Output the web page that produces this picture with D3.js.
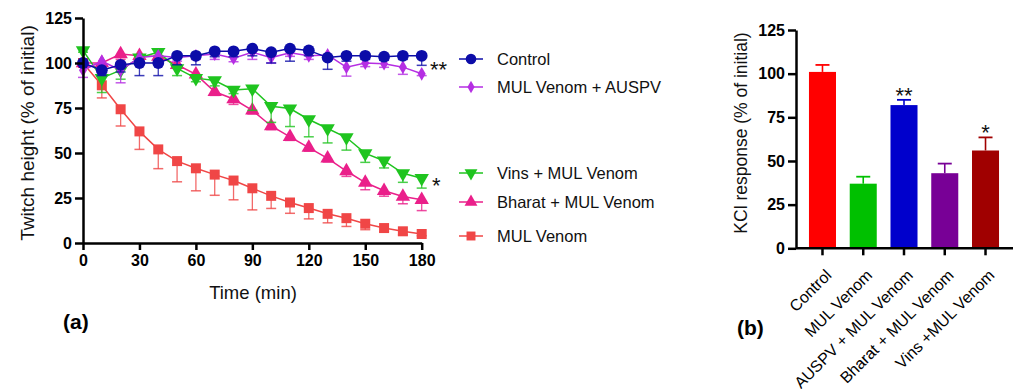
<!DOCTYPE html>
<html><head><meta charset="utf-8">
<script src="https://cdn.jsdelivr.net/npm/d3@7"></script>
<style>body{margin:0;background:#fff}svg{display:block}text{font-family:"Liberation Sans",Arial,sans-serif}</style>
</head><body>
<svg id="c" width="1019" height="389"></svg>
<script>
const times = [0,10,20,30,40,50,60,70,80,90,100,110,120,130,140,150,160,170,180];
const controlVals = [100,96,99,100,100,104,104,106.5,106.5,108,106,108,107,103,104,104,103.5,104,104];
const controlErr  = [0,3,4,7,7,5,5,3,3,4,6,7,3,6.5,3,2,2,2,5.3];
const auspvVals = [96,101,96,103,104,103,104,105,102.7,106,103,105.7,104,104.5,97.7,100,99.6,97.7,94];
const auspvErr  = [4,2,7,3,3,2,2,3,2,4,3,2,2,2,5,2,2,4,1];
const vinsVals = [107,91.6,96,103,106,97,91.6,90.3,85,85.7,76,74.7,68.6,63.6,58.6,49.8,45.7,38.7,36];
const vinsErr  = [1,8,5,3,2,4,2,3,2,12,9,10,9.6,8,7,5,4,5,5.5];
const bharatVals = [100,100,105,104,103.6,99,93.7,84,80,73.7,65,59,53,47,40,33.6,29,25.8,24];
const bharatErr  = [1,2,3,2,2,2,2,2,3,2,2,2,2,2,3,4,3,4,6];
const mulVals = [100,87.6,74.3,62,52,45.5,41.5,38,34.7,30.4,26.2,22.5,19.4,16.2,13.8,10.7,8.3,6.5,5];
const mulErr  = [0,7,9.3,10,10.7,11.5,12.5,11.5,10.7,12,7,6,6,5,4.6,3.3,2,2,1];
const xTicksA = [0,30,60,90,120,150,180];
const yTicks = [0,25,50,75,100,125];

const barCats = ["Control","MUL Venom","AUSPV + MUL Venom","Bharat + MUL Venom","Vins +MUL Venom"];
const barVals = [101,37,82,43,56];
const barErr  = [4,4,3,5.5,7.5];
const barStars = ["","","**","","*"];

const svg = d3.select("#c");
const FONT = '"Liberation Sans",Arial,sans-serif';

// ---------- Panel (a) ----------
const xA = d3.scaleLinear().domain([0,180]).range([83,421.7]);
const yA = d3.scaleLinear().domain([0,125]).range([243,18]);

const series = [
  {name:"MUL Venom", vals:mulVals, err:mulErr, color:"#f04646", sym:d3.symbolSquare, size:100, rot:0, ly:236},
  {name:"Bharat + MUL Venom", vals:bharatVals, err:bharatErr, color:"#ea1f8a", sym:d3.symbolTriangle, size:90, rot:0, ly:202},
  {name:"Vins + MUL Venom", vals:vinsVals, err:vinsErr, color:"#1fc41f", sym:d3.symbolTriangle, size:90, rot:180, ly:173},
  {name:"MUL Venom + AUSPV", vals:auspvVals, err:auspvErr, color:"#b52ee3", sym:d3.symbolDiamond, size:55, rot:0, ly:87},
  {name:"Control", vals:controlVals, err:controlErr, color:"#0c0ca8", sym:d3.symbolCircle, size:110, rot:0, ly:59}
];

const gA = svg.append("g");
series.forEach(s => {
  const g = gA.append("g");
  times.forEach((t,i) => {
    if (s.err[i] <= 0.5) return;
    const x = xA(t), y1 = yA(s.vals[i]), y2 = yA(s.vals[i]-s.err[i]);
    g.append("line").attr("x1",x).attr("x2",x).attr("y1",y1).attr("y2",y2)
      .attr("stroke",s.color).attr("stroke-width",1.3).attr("opacity",0.8);
    g.append("line").attr("x1",x-5).attr("x2",x+5).attr("y1",y2).attr("y2",y2)
      .attr("stroke",s.color).attr("stroke-width",1.5).attr("opacity",0.8);
  });
  const line = d3.line().x((d,i)=>xA(times[i])).y(d=>yA(d));
  g.append("path").attr("d",line(s.vals)).attr("fill","none")
    .attr("stroke",s.color).attr("stroke-width",1.5);
  const sym = d3.symbol().type(s.sym).size(s.size);
  times.forEach((t,i) => {
    g.append("path").attr("d",sym())
      .attr("transform",`translate(${xA(t)},${yA(s.vals[i])}) rotate(${s.rot})`)
      .attr("fill",s.color);
  });
  const lg = svg.append("g");
  lg.append("line").attr("x1",459).attr("x2",483).attr("y1",s.ly).attr("y2",s.ly)
    .attr("stroke",s.color).attr("stroke-width",1.5);
  lg.append("path").attr("d",d3.symbol().type(s.sym).size(s.size*0.8)())
    .attr("transform",`translate(471,${s.ly}) rotate(${s.rot})`).attr("fill",s.color);
  lg.append("text").attr("x",497).attr("y",s.ly).attr("dy","0.36em")
    .attr("font-size",16.5).attr("fill","#111").text(s.name);
});

// stars (a)
svg.append("text").attr("x",430).attr("y",77).attr("font-size",22).attr("fill","#111").text("**");
svg.append("text").attr("x",432).attr("y",yA(36)+15).attr("font-size",22).attr("fill","#111").text("*");

function styleAxis(g){
  g.selectAll(".domain").attr("stroke","#000").attr("stroke-width",2.5);
  g.selectAll(".tick line").attr("stroke","#000").attr("stroke-width",2.5);
  g.selectAll(".tick text").attr("font-family",FONT).attr("font-size",16).attr("font-weight","bold").attr("fill","#000");
}
const axA_x = svg.append("g").attr("transform","translate(0,243)")
  .call(d3.axisBottom(xA).tickValues(xTicksA).tickSize(7).tickPadding(5).tickSizeOuter(0));
styleAxis(axA_x);
const axA_y = svg.append("g").attr("transform","translate(83,0)")
  .call(d3.axisLeft(yA).tickValues(yTicks).tickSize(8).tickPadding(3).tickSizeOuter(0));
styleAxis(axA_y);

svg.append("text").attr("x",253).attr("y",293).attr("text-anchor","middle").attr("dy","0.35em")
  .attr("font-size",18.5).attr("fill","#111").text("Time (min)");
svg.append("text").attr("transform","translate(27,133) rotate(-90)").attr("text-anchor","middle").attr("dy","0.35em")
  .attr("font-size",19).attr("fill","#111").text("Twitch height (% of initial)");
svg.append("text").attr("x",63).attr("y",329).attr("font-size",21).attr("font-weight","bold").attr("fill","#000").text("(a)");

// ---------- Panel (b) ----------
const barColors = ["#ff0000","#00c000","#0000cc","#780096","#a00000"];
const xB = d3.scaleBand().domain(barCats).range([802.1,1005.9]).paddingInner(0.337).paddingOuter(0.1685);
const yB = d3.scaleLinear().domain([0,125]).range([248.3,30]);

barCats.forEach((c,i) => {
  const x0 = xB(c), bw = xB.bandwidth(), cx = x0+bw/2;
  const ytop = yB(barVals[i]+barErr[i]);
  svg.append("line").attr("x1",cx).attr("x2",cx).attr("y1",yB(barVals[i])).attr("y2",ytop)
    .attr("stroke",barColors[i]).attr("stroke-width",1.6);
  svg.append("line").attr("x1",cx-7).attr("x2",cx+7).attr("y1",ytop).attr("y2",ytop)
    .attr("stroke",barColors[i]).attr("stroke-width",1.8);
  svg.append("rect").attr("x",x0).attr("y",yB(barVals[i])).attr("width",bw)
    .attr("height",yB(0)-yB(barVals[i])).attr("fill",barColors[i]);
  if (barStars[i]) {
    svg.append("text").attr("x",cx).attr("y",ytop+3).attr("text-anchor","middle")
      .attr("font-size",22).attr("fill","#111").text(barStars[i]);
  }
});

const axB_x = svg.append("g").attr("transform","translate(0,248.3)")
  .call(d3.axisBottom(xB).tickSize(7).tickPadding(4).tickSizeOuter(0));
axB_x.select(".domain").attr("d","M796,0H1013");
styleAxis(axB_x);
axB_x.selectAll(".tick text").attr("font-weight","normal").attr("font-size",16)
  .attr("text-anchor","end").attr("dy","0.35em")
  .attr("transform","translate(6,24) rotate(-45)").attr("y",0).attr("x",0);
const axB_y = svg.append("g").attr("transform","translate(796,0)")
  .call(d3.axisLeft(yB).tickValues(yTicks).tickSize(8).tickPadding(3).tickSizeOuter(0));
styleAxis(axB_y);

svg.append("text").attr("transform","translate(741,133) rotate(-90)").attr("text-anchor","middle").attr("dy","0.35em")
  .attr("font-size",17.5).attr("fill","#111").text("KCl response (% of initial)");
svg.append("text").attr("x",737).attr("y",335).attr("font-size",21).attr("font-weight","bold").attr("fill","#000").text("(b)");
</script>
</body></html>
